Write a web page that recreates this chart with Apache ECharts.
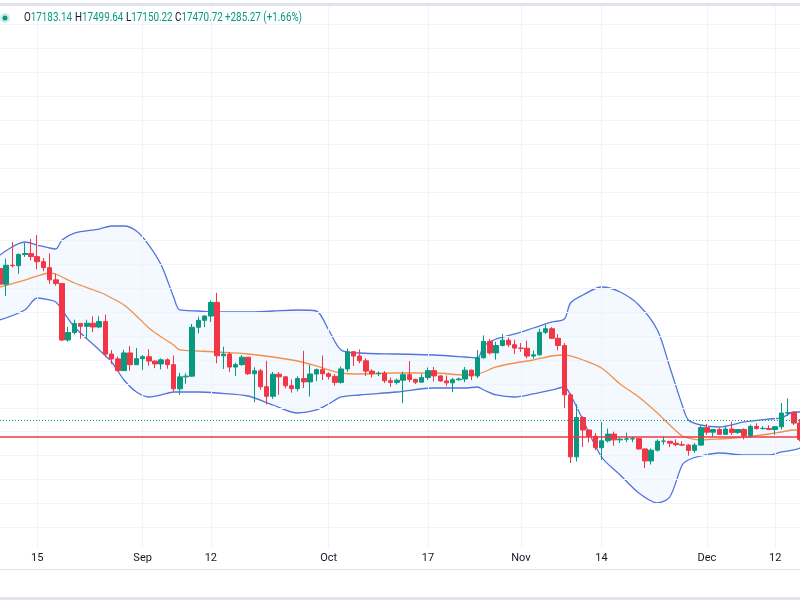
<!DOCTYPE html>
<html><head><meta charset="utf-8">
<script src="https://cdn.jsdelivr.net/npm/echarts@6/dist/echarts.min.js"></script>
<style>html,body{margin:0;padding:0;background:#fff}#c{width:800px;height:600px}</style>
</head><body><div id="c"></div>
<script>
// [date, open, close, low, high]
const ohlc = [
['2022-08-09',23810,23160,22880,23930],['2022-08-10',23160,23950,22660,24230],['2022-08-11',23950,23930,23860,24920],
['2022-08-12',23930,24400,23590,24450],['2022-08-13',24400,24440,24300,24880],['2022-08-14',24440,24310,24150,25050],
['2022-08-15',24310,24100,23780,25210],['2022-08-16',24100,23850,23700,24250],['2022-08-17',23850,23340,23180,24450],
['2022-08-18',23340,23190,23100,23600],['2022-08-19',23190,20830,20780,23200],['2022-08-20',20830,21140,20760,21380],
['2022-08-21',21140,21520,21060,21680],['2022-08-22',21520,21400,20880,21520],['2022-08-23',21400,21530,20890,21680],
['2022-08-24',21530,21370,21160,21820],['2022-08-25',21370,21600,21320,21820],['2022-08-26',21600,20240,20110,21890],
['2022-08-27',20240,20040,19820,20410],['2022-08-28',20040,19550,19520,20140],['2022-08-29',19550,20290,19550,20420],
['2022-08-30',20290,19800,19540,20580],['2022-08-31',19800,20050,19800,20490],['2022-09-01',20050,20130,19580,20200],
['2022-09-02',20130,19950,19750,20440],['2022-09-03',19950,19830,19650,19970],['2022-09-04',19830,20000,19600,20060],
['2022-09-05',20000,19800,19630,20060],['2022-09-06',19800,18790,18680,20180],['2022-09-07',18790,19290,18540,19460],
['2022-09-08',19290,19320,19000,19440],['2022-09-09',19320,21360,19300,21500],['2022-09-10',21360,21650,21100,21800],
['2022-09-11',21650,21830,21360,21860],['2022-09-12',21830,22400,21580,22480],['2022-09-13',22400,20170,19860,22800],
['2022-09-14',20170,20240,19620,20550],['2022-09-15',20240,19700,19500,20320],['2022-09-16',19700,19800,19330,19880],
['2022-09-17',19800,20110,19760,20200],['2022-09-18',20110,19420,19370,20110],['2022-09-19',19420,19540,18230,19690],
['2022-09-20',19540,18880,18750,19620],['2022-09-21',18880,18480,18130,19960],['2022-09-22',18480,19400,18370,19500],
['2022-09-23',19400,19290,18540,19490],['2022-09-24',19290,18920,18810,19320],['2022-09-25',18920,18800,18630,19180],
['2022-09-26',18800,19220,18680,19320],['2022-09-27',19220,19080,18820,20380],['2022-09-28',19080,19410,18470,19790],
['2022-09-29',19410,19590,19110,19640],['2022-09-30',19590,19420,19160,20180],['2022-10-01',19420,19310,19180,19480],
['2022-10-02',19310,19060,18920,19400],['2022-10-03',19060,19620,19000,19720],['2022-10-04',19620,20340,19500,20470],
['2022-10-05',20340,20160,19740,20370],['2022-10-06',20160,19960,19860,20440],['2022-10-07',19960,19530,19320,20060],
['2022-10-08',19530,19420,19260,19610],['2022-10-09',19420,19440,19320,19520],['2022-10-10',19440,19130,19030,19530],
['2022-10-11',19130,19060,18870,19260],['2022-10-12',19060,19150,18970,19220],['2022-10-13',19150,19380,18190,19510],
['2022-10-14',19380,19180,19070,19950],['2022-10-15',19180,19070,18990,19220],['2022-10-16',19070,19260,19060,19410],
['2022-10-17',19260,19550,19160,19680],['2022-10-18',19550,19330,19100,19700],['2022-10-19',19330,19120,19080,19360],
['2022-10-20',19120,19040,18900,19350],['2022-10-21',19040,19170,18650,19250],['2022-10-22',19170,19200,19130,19260],
['2022-10-23',19200,19570,19070,19700],['2022-10-24',19570,19330,19160,19600],['2022-10-25',19330,20090,19240,20410],
['2022-10-26',20090,20770,20050,21020],['2022-10-27',20770,20290,20220,20870],['2022-10-28',20290,20600,20010,20750],
['2022-10-29',20600,20820,20560,21080],['2022-10-30',20820,20630,20530,20930],['2022-10-31',20630,20490,20240,20840],
['2022-11-01',20490,20480,20340,20700],['2022-11-02',20480,20160,20060,20800],['2022-11-03',20160,20210,20050,20390],
['2022-11-04',20210,21150,20180,21300],['2022-11-05',21150,21300,21080,21480],['2022-11-06',21300,20900,20880,21370],
['2022-11-07',20900,20600,20390,21070],['2022-11-08',20600,18540,17990,20700],['2022-11-09',18540,15950,15690,18600],
['2022-11-10',15950,17590,15750,18150],['2022-11-11',17590,17070,16360,17650],['2022-11-12',17070,16810,16550,17080],
['2022-11-13',16810,16330,16230,16950],['2022-11-14',16330,16620,15820,17400],['2022-11-15',16620,16900,16550,17130],
['2022-11-16',16900,16660,16410,17000],['2022-11-17',16660,16690,16530,16740],['2022-11-18',16690,16700,16560,16960],
['2022-11-19',16700,16710,16560,16800],['2022-11-20',16710,16280,16260,16740],['2022-11-21',16280,15780,15480,16300],
['2022-11-22',15780,16230,15630,16300],['2022-11-23',16230,16600,16170,16680],['2022-11-24',16600,16610,16460,16810],
['2022-11-25',16600,16520,16350,16600],['2022-11-26',16520,16460,16400,16680],['2022-11-27',16460,16440,16400,16600],
['2022-11-28',16440,16220,16000,16480],['2022-11-29',16220,16440,16120,16530],['2022-11-30',16440,17170,16420,17250],
['2022-12-01',17170,16980,16870,17320],['2022-12-02',16980,17090,16800,17110],['2022-12-03',17090,16890,16880,17160],
['2022-12-04',16890,17110,16880,17200],['2022-12-05',17110,16970,16870,17420],['2022-12-06',16970,17090,16910,17110],
['2022-12-07',17090,16840,16680,17140],['2022-12-08',16840,17220,16740,17300],['2022-12-09',17220,17130,17090,17350],
['2022-12-10',17130,17140,17090,17230],['2022-12-11',17130,17090,17070,17270],['2022-12-12',17090,17210,16870,17240],
['2022-12-13',17210,17780,17090,18200],['2022-12-14',17780,17800,17660,18390],['2022-12-15',17800,17360,17280,17850],
['2022-12-16',17360,16680,16600,17530]
];

// Bollinger band readings (date, upper, basis, lower)
const bbDates = ['2022-08-09','2022-08-13','2022-08-15','2022-08-17','2022-08-18','2022-08-19','2022-08-21','2022-08-25','2022-08-27','2022-08-29','2022-08-31','2022-09-02','2022-09-04','2022-09-06','2022-09-07','2022-09-10','2022-09-13','2022-09-18','2022-09-22','2022-09-26','2022-09-29','2022-10-01','2022-10-03','2022-10-06','2022-10-12','2022-10-18','2022-10-23','2022-10-25','2022-10-26','2022-10-28','2022-10-31','2022-11-03','2022-11-06','2022-11-08','2022-11-09','2022-11-11','2022-11-14','2022-11-17','2022-11-20','2022-11-23','2022-11-25','2022-11-27','2022-11-28','2022-11-30','2022-12-03','2022-12-07','2022-12-11','2022-12-13','2022-12-15','2022-12-16'];
const bbUpper = [24378,24920,24795,24670,24628,25004,25296,25463,25589,25589,25380,24795,23960,22624,22082,22040,21998,21998,22040,22082,22040,21247,20412,20286,20245,20203,20119,20078,20579,20871,21080,21330,21581,21706,22374,22708,23042,22833,22290,21247,19702,18115,17489,17280,17197,17406,17531,17573,17823,17823];
const bbBasis = [23042,23334,23500,23626,23585,23460,23209,22833,22583,22290,21831,21330,20954,20620,20412,20370,20328,20245,20119,19952,19744,19577,19451,19410,19451,19451,19368,19410,19493,19702,19869,19994,20161,20203,20161,19994,19660,18992,18449,17781,17280,16821,16738,16654,16696,16779,16904,16988,17071,17071];
const bbLower = [21664,22082,22583,22500,22416,22082,21372,20412,19911,19159,18658,18449,18533,18658,18658,18658,18616,18491,18115,17781,17907,18157,18449,18533,18658,18825,18825,18867,18742,18533,18449,18575,18742,18867,18533,17489,15944,15193,14441,14024,14274,15610,15819,15986,16111,16028,16028,16153,16237,16320];

const tickDates = ['2022-08-15','2022-09-01','2022-09-12','2022-10-01','2022-10-17','2022-11-01','2022-11-14','2022-12-01','2022-12-12'];
const tickTexts = ['15','Sep','12','Oct','17','Nov','14','Dec','12'];
const priceGrid = [13000,14000,15000,16000,17000,18000,19000,20000,21000,22000,23000,24000,25000,26000,27000,28000,29000,30000,31000,32000,33000,34000];

const header = {open:'17183.14', high:'17499.64', low:'17150.22', close:'17470.72', change:'+285.27', pct:'(+1.66%)'};
const lastPrice = 17470.72;
const redLevel = 16800;

const UP = '#089981', DOWN = '#F23645';
const FONT = "Roboto, 'DejaVu Sans', sans-serif";
const cats = ohlc.map(r => r[0]);
const candles = ohlc.map(r => [r[1], r[2], r[3], r[4]]);
const pair = arr => bbDates.map((d, i) => [d, arr[i]]);

const chart = echarts.init(document.getElementById('c'), null, {renderer:'canvas'});
const rich = {
  k:{fill:'#131722', fontSize:12, fontFamily:FONT},
  v:{fill:UP, fontSize:12, fontFamily:FONT}
};
function hdr(x, str){
  return {type:'text', x:x, y:18, scaleX:0.82, z:100,
    style:{text:str, rich:rich, fontFamily:FONT, fontSize:12, fill:UP, verticalAlign:'middle', align:'left'}};
}

chart.setOption({
  animation:false,
  backgroundColor:'#ffffff',
  grid:{left:0, right:0, top:6, bottom:52},
  xAxis:{type:'category', data:cats, boundaryGap:false,
    axisLine:{show:false}, axisTick:{show:false}, splitLine:{show:false},
    axisLabel:{interval:(i, v) => tickDates.indexOf(v) >= 0,
      formatter:v => tickTexts[tickDates.indexOf(v)],
      margin:5, color:'#131722', fontSize:11, fontFamily:FONT}},
  yAxis:{type:'value', min:12144, max:34775, show:false, splitLine:{show:false}},
  series:[
    {name:'upper', type:'line', data:pair(bbUpper), symbol:'none', smooth:0.3, z:1,
      lineStyle:{color:'#5374dc', width:1.3}, areaStyle:{color:'rgba(33,150,243,0.08)', origin:'start'},
      markLine:{silent:true, symbol:'none', z:3, label:{show:false}, animation:false,
        lineStyle:{color:'#f0f3fa', width:1, type:'solid'},
        data:priceGrid.map(v => ({yAxis:v})).concat(tickDates.map(d => ({xAxis:d})))}},
    {name:'lower', type:'line', data:pair(bbLower), symbol:'none', smooth:0.3, z:2,
      lineStyle:{color:'#5374dc', width:1.3}, areaStyle:{color:'#ffffff', opacity:1, origin:'start'}},
    {name:'basis', type:'line', data:pair(bbBasis), symbol:'none', smooth:0.3, z:4,
      lineStyle:{color:'#f39048', width:1.3}},
    {name:'price', type:'candlestick', data:candles, barWidth:5, z:5,
      itemStyle:{color:UP, color0:DOWN, borderColor:UP, borderColor0:DOWN, borderWidth:1},
      markLine:{silent:true, symbol:'none', z:6, label:{show:false}, animation:false,
        data:[
          {yAxis:lastPrice, lineStyle:{color:UP, width:1, type:[1,2]}},
          {yAxis:redLevel, lineStyle:{color:DOWN, width:1.5, type:'solid'}}
        ]}}
  ],
  graphic:[
    {type:'rect', shape:{x:0, y:3, width:800, height:3}, style:{fill:'#e0e3eb'}, z:100},
    {type:'rect', shape:{x:0, y:569, width:800, height:1}, style:{fill:'#e0e3eb'}, z:100},
    {type:'rect', shape:{x:0, y:597, width:800, height:3}, style:{fill:'#e0e3eb'}, z:100},
    {type:'circle', shape:{cx:5, cy:18, r:5}, style:{fill:'rgba(8,153,129,0.18)'}, z:100},
    {type:'circle', shape:{cx:5, cy:18, r:2.5}, style:{fill:UP}, z:101},
    hdr(24, '{k|O}{v|' + header.open + '}'),
    hdr(75, '{k|H}{v|' + header.high + '}'),
    hdr(126, '{k|L}{v|' + header.low + '}'),
    hdr(175, '{k|C}{v|' + header.close + '}'),
    hdr(225, '{v|' + header.change + ' ' + header.pct + '}')
  ]
});
</script></body></html>
